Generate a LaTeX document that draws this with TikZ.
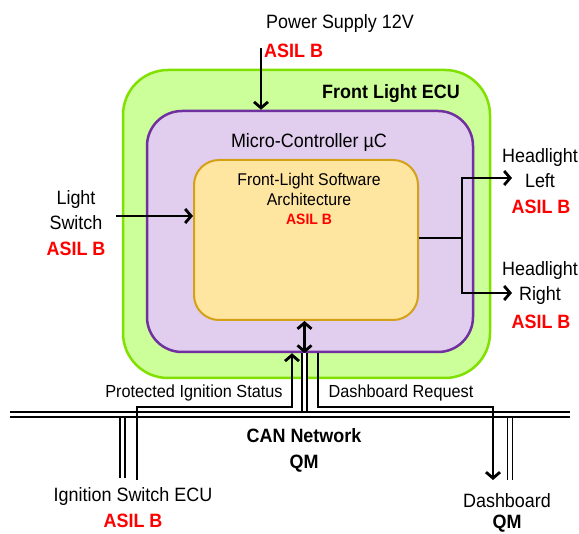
\documentclass[tikz,border=0pt]{standalone}
\usepackage{fontspec}
\setmainfont{Liberation Sans}[FakeStretch=0.93]
\usetikzlibrary{arrows.meta}
\definecolor{ecufill}{RGB}{204,255,153}
\definecolor{ecuborder}{RGB}{128,224,0}
\definecolor{mcfill}{RGB}{225,205,237}
\definecolor{mcborder}{RGB}{112,48,160}
\definecolor{swfill}{RGB}{255,230,160}
\definecolor{swborder}{RGB}{212,160,23}
\definecolor{asilred}{RGB}{255,0,0}
\begin{document}
\begin{tikzpicture}[x=1pt,y=-1pt,
  lbl/.style={font=\fontsize{19.3}{25}\selectfont, inner sep=0pt, align=center},
  sml/.style={font=\fontsize{17}{20}\selectfont, inner sep=0pt, align=center},
  asil/.style={font=\fontsize{19.3}{22}\selectfont\bfseries, text=asilred, inner sep=0pt},
  tip/.tip={Straight Barb[length=6pt,width=14pt]},
  conn/.style={line width=2.8pt, -tip},
  wire/.style={line width=2.8pt},
  bus/.style={line width=1.6pt, double, double distance=3.4pt},
  box/.style={line width=2.5pt, inner sep=0pt},
]
\useasboundingbox (0,0) rectangle (579,534);

% boxes
\node[box, draw=ecuborder, fill=ecufill, rounded corners=45pt, minimum width=367pt, minimum height=308pt] (ecu) at (306.5,224) {};
\node[box, draw=mcborder, fill=mcfill, rounded corners=35pt, minimum width=326pt, minimum height=241pt] (mc) at (310,231.5) {};
\node[box, line width=2pt, draw=swborder, fill=swfill, rounded corners=25pt, minimum width=224pt, minimum height=160pt] (sw) at (306,240) {};

% box titles
\node[lbl, font=\fontsize{19.3}{25}\selectfont\bfseries] (ecut) at (391,94) {Front Light ECU};
\node[lbl] (mct) at (309,143) {Micro-Controller µC};
\node[sml] (swt) at (309,189) {Front-Light Software\\Architecture};
\node[asil, font=\fontsize{15}{18}\selectfont\bfseries] (swa) at (309,219) {ASIL B};

% power supply
\node[lbl] (ps) at (340,24) {Power Supply 12V};
\node[asil, anchor=west] (psa) at (264,51) {ASIL B};
\coordinate (psin) at (261,48);
\draw[conn] (psin) -- (psin |- mc.north);

% light switch
\node[lbl] (ls) at (76,210.5) {Light\\Switch};
\node[asil] (lsa) at (76,249) {ASIL B};
\coordinate (lsin) at (116,216);
\draw[conn] (lsin) -- (lsin -| sw.west);

% headlights
\node[lbl] (hl) at (540,168.5) {Headlight\\Left};
\node[asil] (hla) at (541,207) {ASIL B};
\node[lbl] (hr) at (540,283.5) {Headlight\\Right};
\node[asil] (hra) at (541,322) {ASIL B};
\coordinate (split) at (462,238);
\coordinate (hlin) at (512,178);
\coordinate (hrin) at (512,293);
\draw[wire] (sw.east |- split) -- (split);
\draw[conn] (split) |- (hlin);
\draw[conn] (split) |- (hrin);

% CAN bus
\coordinate (busL) at (10,414.5);
\coordinate (busR) at (570,414.5);
\draw[bus] (busL) -- (busR);
\node[lbl, font=\fontsize{19.3}{26}\selectfont\bfseries] (can) at (304,450) {CAN Network\\QM};

% micro-controller to bus
\coordinate (io) at (304.5,0);
\draw[line width=2.8pt, tip-tip] (io |- sw.south) -- (io |- mc.south);
\draw[bus] (io |- mc.south) -- (304.5,411.25);

% ignition switch ECU
\node[lbl] (ig) at (133,497) {Ignition Switch ECU};
\node[asil] (iga) at (133,521) {ASIL B};
\draw[bus] (122.5,417.75) -- (122.5,478);
\coordinate (igsrc) at (137,480);
\coordinate (igturn) at (292,407);
\draw[conn] (igsrc) |- (igturn) -- (igturn |- mc.south);
\node[sml, font=\fontsize{17.5}{20}\selectfont] (pis) at (194,393) {Protected Ignition Status};

% dashboard
\node[lbl] (db) at (507,501) {Dashboard};
\node[lbl, font=\fontsize{19.3}{22}\selectfont\bfseries] (dbq) at (507,524) {QM};
\draw[bus] (510,417.75) -- (510,480);
\coordinate (dbsrc) at (318,0);
\coordinate (dbturn) at (318,407);
\coordinate (dbin) at (493,480);
\draw[conn] (dbsrc |- mc.south) -- (dbturn) -| (dbin);
\node[sml, font=\fontsize{17.5}{20}\selectfont] (dbr) at (401,393) {Dashboard Request};
\end{tikzpicture}
\end{document}
